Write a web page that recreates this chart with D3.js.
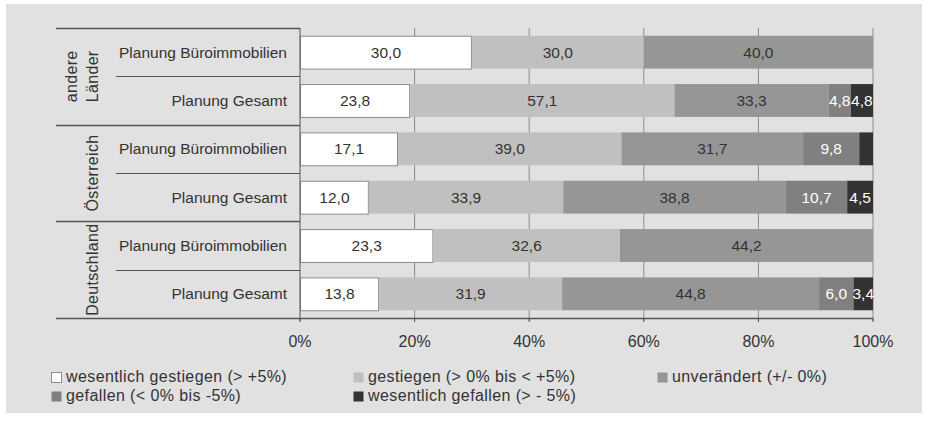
<!DOCTYPE html>
<html>
<head>
<meta charset="utf-8">
<script src="https://cdn.jsdelivr.net/npm/d3@7"></script>
<style>
  html, body { margin: 0; padding: 0; background: #ffffff; }
  svg { display: block; font-family: "Liberation Sans", Arial, sans-serif; }
</style>
</head>
<body>
<svg id="chart" width="928" height="426"></svg>
<script>
// ---- Data ----
const groups = ["andere Länder", "Österreich", "Deutschland"];
const rowGroups = ["andere Länder", "andere Länder", "Österreich", "Österreich", "Deutschland", "Deutschland"];
const categories = ["Planung Büroimmobilien", "Planung Gesamt", "Planung Büroimmobilien", "Planung Gesamt", "Planung Büroimmobilien", "Planung Gesamt"];
const seriesNames = ["wesentlich gestiegen (> +5%)", "gestiegen (> 0% bis < +5%)", "unverändert (+/- 0%)", "gefallen (< 0% bis -5%)", "wesentlich gefallen (> - 5%)"];
const wesentlichGestiegen = [30.0, 23.8, 17.1, 12.0, 23.3, 13.8];
const gestiegen          = [30.0, 57.1, 39.0, 33.9, 32.6, 31.9];
const unveraendert       = [40.0, 33.3, 31.7, 38.8, 44.2, 44.8];
const gefallen           = [0,    4.8,  9.8,  10.7, 0,    6.0];
const wesentlichGefallen = [0,    4.8,  2.4,  4.5,  0,    3.4];
const tickValues = [0, 0.2, 0.4, 0.6, 0.8, 1.0];

// ---- Styles ----
const colors = ["#ffffff", "#c0c0c0", "#969696", "#808080", "#333333"];
const labelColors = ["#333333", "#333333", "#333333", "#ffffff", "#ffffff"];

const seriesValues = [wesentlichGestiegen, gestiegen, unveraendert, gefallen, wesentlichGefallen];
const rows = categories.map((c, i) => {
  const vals = seriesValues.map(s => s[i]);
  const total = d3.sum(vals);
  let acc = 0;
  const segs = vals.map((v, k) => {
    const s = { k, v, x0: acc / total, x1: (acc + v) / total };
    acc += v;
    return s;
  });
  return { i, cat: c, group: rowGroups[i], segs };
});

const svg = d3.select("#chart");
svg.append("rect").attr("x", 6).attr("y", 4).attr("width", 916).attr("height", 409).attr("fill", "#e1e1e1");

const plotTop = 28, plotBottom = 318, plotLeft = 300, plotRight = 873;
const x = d3.scaleLinear().domain([0, 1]).range([plotLeft, plotRight]);
const y = d3.scaleBand().domain(d3.range(rows.length)).range([plotTop, plotBottom]).paddingInner(0.32).paddingOuter(0.16);
const step = y.step();

// gridlines
svg.append("g").selectAll("line").data(tickValues.slice(1)).join("line")
  .attr("x1", d => x(d)).attr("x2", d => x(d))
  .attr("y1", plotTop).attr("y2", plotBottom + 3)
  .attr("stroke", "#8c8c8c").attr("stroke-width", 1);

// bars
const fmt = v => d3.format(".1f")(v).replace(".", ",");
const rowG = svg.append("g").selectAll("g").data(rows).join("g");
rowG.selectAll("rect").data(d => d.segs.filter(s => s.v > 0).map(s => ({ ...s, i: d.i }))).join("rect")
  .attr("x", s => x(s.x0) + (s.k === 0 ? 0.5 : 0))
  .attr("y", s => y(s.i) + (s.k === 0 ? 0.5 : 0))
  .attr("width", s => x(s.x1) - x(s.x0) - (s.k === 0 ? 1 : 0))
  .attr("height", y.bandwidth() - (0))
  .attr("fill", s => colors[s.k])
  .attr("stroke", s => s.k === 0 ? "#8c8c8c" : "none");
rowG.selectAll("text").data(d => d.segs.filter(s => s.v > 0 && (x(s.x1) - x(s.x0)) > 16).map(s => ({ ...s, i: d.i }))).join("text")
  .attr("x", s => (x(s.x0) + x(s.x1)) / 2)
  .attr("y", s => y(s.i) + y.bandwidth() / 2 + 5.5)
  .attr("text-anchor", "middle")
  .attr("font-size", "15.5px")
  .attr("fill", s => labelColors[s.k])
  .text(s => fmt(s.v));

// axes lines
const lineColor = "#555555";
svg.append("line").attr("x1", plotLeft).attr("x2", plotLeft).attr("y1", plotTop).attr("y2", plotBottom + 3).attr("stroke", lineColor);
svg.append("line").attr("x1", 56).attr("x2", plotRight).attr("y1", plotBottom + 0.5).attr("y2", plotBottom + 0.5).attr("stroke", lineColor).attr("stroke-width", 1.5);
// row separators
d3.range(rows.length).forEach(i => {
  const yy = Math.round(plotTop + i * step) + 0.5;
  const newGroup = i === 0 || rowGroups[i] !== rowGroups[i - 1];
  svg.append("line").attr("x1", newGroup ? 56 : 116).attr("x2", plotLeft).attr("y1", yy).attr("y2", yy).attr("stroke", lineColor).attr("stroke-width", newGroup ? 1.5 : 1.2);
});

// category labels
svg.append("g").selectAll("text").data(rows).join("text")
  .attr("x", 287).attr("y", d => y(d.i) + y.bandwidth() / 2 + 5.5)
  .attr("text-anchor", "end").attr("font-size", "15.5px").attr("fill", "#333333")
  .text(d => d.cat);

// group labels
const groupLines = { "andere Länder": ["andere", "Länder"], "Österreich": ["Österreich"], "Deutschland": ["Deutschland"] };
groups.forEach(g => {
  const idx = rowGroups.map((r, i) => r === g ? i : -1).filter(i => i >= 0);
  const y0 = plotTop + d3.min(idx) * step, y1 = plotTop + (d3.max(idx) + 1) * step;
  const cy = (y0 + y1) / 2;
  const lines = groupLines[g];
  lines.forEach((ln, j) => {
    const bx = 98 - (lines.length - 1 - j) * 21;
    svg.append("text").attr("transform", `translate(${bx},${cy}) rotate(-90)`)
      .attr("text-anchor", "middle").attr("font-size", "16px").attr("fill", "#333333")
      .attr("letter-spacing", "0.3px")
      .text(ln);
  });
});

// x axis ticks & labels
svg.append("g").selectAll("line").data(tickValues).join("line")
  .attr("x1", d => x(d)).attr("x2", d => x(d)).attr("y1", plotBottom).attr("y2", plotBottom + 4).attr("stroke", lineColor);
svg.append("g").selectAll("text").data(tickValues).join("text")
  .attr("x", d => x(d)).attr("y", 347).attr("text-anchor", "middle").attr("font-size", "16px").attr("fill", "#333333")
  .text(d => d3.format(".0%")(d));

// legend
const legendPos = [[51, 372], [353, 372], [657, 372], [51, 391], [353, 391]];
seriesNames.forEach((n, k) => {
  const [lx, ly] = legendPos[k];
  svg.append("rect").attr("x", lx + 0.5).attr("y", ly + 0.5).attr("width", 10).attr("height", 10)
    .attr("fill", colors[k]).attr("stroke", k === 0 ? "#8c8c8c" : "none");
  svg.append("text").attr("x", lx + 15).attr("y", ly + 10).attr("font-size", "16px").attr("fill", "#333333")
    .attr("letter-spacing", "0.4px")
    .text(n);
});
</script>
</body>
</html>
